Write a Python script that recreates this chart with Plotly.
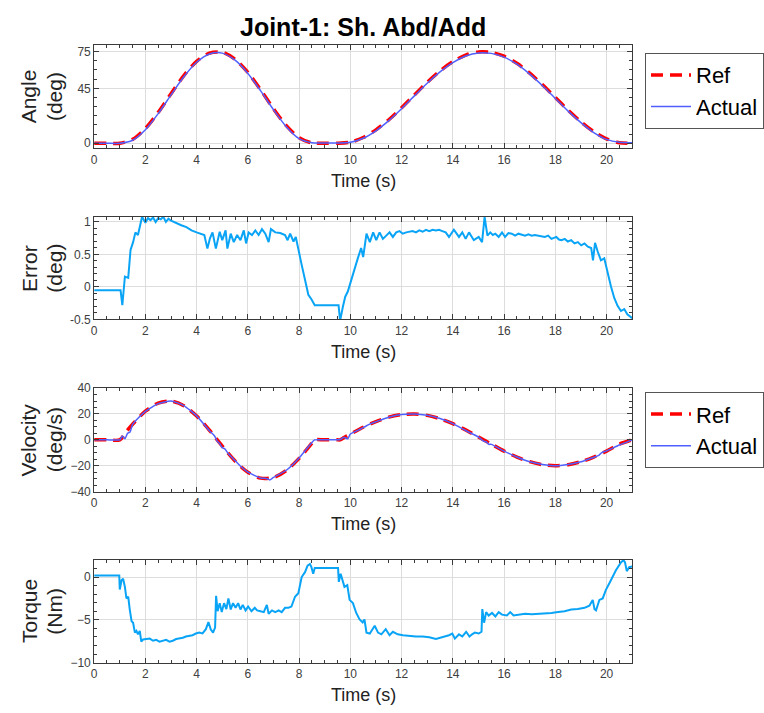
import plotly.graph_objects as go

# ---------------- data ----------------
ang_t = [0.5 * i for i in range(43)]
ang_ref = [0, 0, 0, 3.2, 12.1, 25.3, 40.6, 55.4, 67.1, 73.8,
           74.5, 68.8, 58.0, 43.7, 28.3, 14.4, 4.5, 0.3, 0, 0,
           0.9, 4.7, 11.0, 19.3, 29.1, 39.6, 49.9, 59.2, 66.8, 72.2,
           74.8, 74.4, 71.3, 65.5, 57.4, 47.9, 37.5, 27.1, 17.6, 9.5,
           3.7, 0.5, 0]
ang_act = [0.05, 0.05, 0.05, 2.5, 11.1, 24.3, 39.6, 54.4, 66.3, 73.1,
           73.8, 68.0, 57.2, 42.9, 27.5, 13.6, 3.8, 0.5, 0.3, 0.3,
           0.8, 4.1, 10.2, 18.5, 28.3, 38.8, 49.1, 58.4, 66.0, 71.4,
           74.0, 73.6, 70.5, 64.7, 56.6, 47.1, 36.7, 26.3, 16.9, 8.8,
           3.2, 0.8, 0.5]

err_t = [0, 1.03, 1.10, 1.20, 1.33, 1.42, 1.52, 1.61, 1.71, 1.80,
         1.87, 2.0, 2.1, 2.2, 2.3, 2.4, 2.5, 2.6, 2.7, 2.8,
         2.9, 3.0, 3.1, 3.2, 3.4, 3.6, 3.8, 4.0, 4.2, 4.3,
         4.42, 4.52, 4.62, 4.75, 4.9, 5.0, 5.13, 5.2, 5.33, 5.45,
         5.58, 5.71, 5.84, 5.93, 6.03, 6.16, 6.29, 6.42, 6.55, 6.68,
         6.81, 6.9, 7.07, 7.26, 7.45, 7.55, 7.65, 7.78, 7.87, 7.94,
         8.1, 8.23, 8.36, 8.48, 8.61, 9.54, 9.6, 9.71, 9.8, 9.9,
         10.03, 10.16, 10.29, 10.42, 10.5, 10.63, 10.76, 10.89, 11.01, 11.14,
         11.27, 11.4, 11.53, 11.66, 11.79, 11.92, 12.05, 12.18, 12.3, 12.43,
         12.56, 12.69, 12.82, 12.95, 13.08, 13.21, 13.34, 13.46, 13.59, 13.72,
         13.85, 14.04, 14.24, 14.37, 14.5, 14.63, 14.82, 15.01, 15.14, 15.24,
         15.35, 15.46, 15.56, 15.66, 15.79, 15.92, 16.04, 16.17, 16.3, 16.43,
         16.56, 16.69, 16.82, 16.95, 17.08, 17.2, 17.33, 17.46, 17.59, 17.72,
         17.85, 18.04, 18.14, 18.24, 18.37, 18.49, 18.62, 18.75, 18.88, 19.01,
         19.14, 19.27, 19.4, 19.47, 19.55, 19.65, 19.78, 19.91, 20.04, 20.17,
         20.3, 20.43, 20.56, 20.69, 20.81, 20.94, 21.0]
err_v = [-0.05, -0.05, -0.28, 0.16, 0.14, 0.57, 0.69, 0.84, 0.80, 0.97,
         1.08, 0.99, 1.06, 1.03, 1.07, 1.00, 1.06, 1.04, 1.08, 1.00,
         1.05, 1.02, 1.00, 0.98, 0.95, 0.92, 0.87, 0.84, 0.82, 0.80,
         0.59, 0.75, 0.84, 0.59, 0.85, 0.72, 0.87, 0.59, 0.82, 0.69,
         0.80, 0.72, 0.87, 0.67, 0.84, 0.80, 0.87, 0.80, 0.89, 0.82,
         0.69, 0.89, 0.84, 0.83, 0.80, 0.72, 0.82, 0.70, 0.77, 0.62,
         0.34, 0.11, -0.12, -0.19, -0.28, -0.28, -0.52, -0.30, -0.15, -0.07,
         0.11, 0.29, 0.44, 0.60, 0.46, 0.82, 0.69, 0.84, 0.72, 0.84,
         0.74, 0.79, 0.84, 0.77, 0.84, 0.86, 0.82, 0.84, 0.85, 0.86,
         0.84, 0.87, 0.85, 0.88, 0.86, 0.88, 0.87, 0.88, 0.86, 0.84,
         0.77, 0.88, 0.77, 0.84, 0.74, 0.84, 0.72, 0.77, 0.69, 1.08,
         0.79, 0.84, 0.80, 0.82, 0.77, 0.84, 0.77, 0.83, 0.82, 0.79,
         0.82, 0.80, 0.79, 0.81, 0.79, 0.80, 0.79, 0.78, 0.77, 0.79,
         0.74, 0.77, 0.73, 0.72, 0.74, 0.70, 0.72, 0.67, 0.69, 0.64,
         0.67, 0.62, 0.60, 0.41, 0.68, 0.55, 0.41, 0.44, 0.21, 0.01,
         -0.17, -0.29, -0.37, -0.34, -0.42, -0.47, -0.48]

vref_t = [0, 0.5, 1.0, 1.25, 1.5, 2.0, 2.5, 3.0, 3.5, 4.0,
          4.5, 5.0, 5.5, 6.0, 6.5, 7.0, 7.5, 8.0, 8.25, 8.5,
          8.6, 9.0, 9.5, 9.6, 9.75, 10.0, 10.5, 11.0, 11.5, 12.0,
          12.5, 13.0, 13.5, 14.0, 14.5, 15.0, 15.5, 16.0, 16.5, 17.0,
          17.5, 18.0, 18.5, 19.0, 19.5, 20.0, 20.5, 21.0]
vref_v = [0, 0, 0, 6.2, 12.0, 22.1, 28.4, 29.9, 26.4, 18.4,
          7.4, -4.9, -16.4, -25.1, -29.6, -29.1, -23.7, -14.3, -8.6, -2.5,
          0, 0, 0, 0, 1.7, 4.4, 9.7, 14.1, 17.5, 19.5,
          20.0, 18.9, 16.3, 12.5, 7.7, 2.2, -3.3, -8.7, -13.3, -16.9,
          -19.2, -20.0, -19.2, -16.9, -13.3, -8.7, -3.3, 0]

vact_t = [0, 0.5, 1.0, 1.1, 1.2, 1.3, 1.4, 1.5, 1.75, 2.0,
          2.5, 3.0, 3.5, 4.0, 4.5, 4.7, 4.8, 4.9, 5.0, 5.1,
          5.25, 5.5, 5.75, 6.0, 6.25, 6.5, 6.75, 6.85, 7.0, 7.5,
          8.0, 8.25, 8.5, 8.6, 9.0, 9.5, 9.6, 9.75, 9.9, 10.0,
          10.2, 10.4, 10.6, 10.8, 11.0, 11.5, 12.0, 12.5, 13.0, 13.5,
          14.0, 14.5, 15.0, 15.2, 15.3, 15.4, 15.5, 16.0, 16.5, 17.0,
          17.5, 18.0, 18.5, 19.0, 19.5, 19.7, 19.8, 20.0, 20.5, 21.0]
vact_v = [0, 0, 0, 3, 0.8, 5, 6, 12, 17.5, 22,
          28, 30, 26.5, 18.5, 7, 3, -1, -3, -6, -7,
          -11, -16, -21, -25, -27.5, -29.5, -30, -31, -29, -23.5,
          -14, -8, -2, 0, 0, 0, 0.2, 2, 0.8, 4.5,
          6.5, 8.4, 10.5, 12.5, 14, 17.5, 19.5, 20, 19, 16.5,
          12.5, 7.2, 2.2, -1, -1.5, -3.5, -3.5, -8.7, -13.3, -17,
          -19, -20, -19, -17, -13.5, -12, -10, -8.5, -4, 0]

tq_t = [0, 0.98, 1.0, 1.07, 1.13, 1.2, 1.26, 1.33, 1.39, 1.46,
        1.52, 1.59, 1.65, 1.71, 1.78, 1.84, 1.91, 2.04, 2.17, 2.3,
        2.42, 2.55, 2.68, 2.81, 2.94, 3.07, 3.2, 3.33, 3.46, 3.58,
        3.71, 3.84, 3.97, 4.1, 4.23, 4.36, 4.46, 4.55, 4.64, 4.72,
        4.76, 4.82, 4.9, 4.98, 5.07, 5.16, 5.24, 5.33, 5.42, 5.52,
        5.62, 5.71, 5.8, 5.91, 6.01, 6.14, 6.27, 6.36, 6.49, 6.62,
        6.74, 6.81, 6.94, 7.07, 7.2, 7.32, 7.45, 7.58, 7.7, 7.84,
        7.97, 8.1, 8.23, 8.33, 8.42, 8.48, 8.55, 8.61, 9.52, 9.55,
        9.62, 9.71, 9.77, 9.88, 9.97, 10.1, 10.23, 10.36, 10.48, 10.55,
        10.63, 10.76, 10.95, 11.08, 11.21, 11.38, 11.53, 11.66, 11.85, 12.05,
        12.3, 12.56, 12.82, 13.08, 13.34, 13.59, 13.85, 13.98, 14.08, 14.24,
        14.37, 14.52, 14.65, 14.75, 14.86, 15.01, 15.12, 15.15, 15.22, 15.3,
        15.4, 15.53, 15.66, 15.79, 15.92, 16.11, 16.24, 16.37, 16.56, 16.82,
        17.08, 17.33, 17.59, 17.85, 18.11, 18.36, 18.62, 18.88, 19.14, 19.33,
        19.46, 19.53, 19.59, 19.72, 19.85, 19.97, 20.17, 20.36, 20.56, 20.66,
        20.72, 20.79, 20.88, 21.0]
tq_v = [0.19, 0.19, -1.45, -0.38, -0.2, -1.15, -2.5, -2.3, -3.8, -5.15,
        -5.35, -6.5, -6.3, -6.7, -6.3, -7.55, -7.3, -7.25, -7.2, -7.45,
        -7.35, -7.55, -7.45, -7.35, -7.55, -7.45, -7.25, -7.2, -7.1, -6.95,
        -6.85, -6.8, -6.6, -6.5, -6.6, -6.1, -5.27, -6.1, -6.5, -5.9,
        -2.2, -4.0, -3.05, -4.1, -3.05, -3.75, -2.5, -3.8, -3.05, -3.6,
        -3.05, -3.8, -3.25, -3.9, -3.45, -4.0, -3.6, -3.9, -4.0, -4.1,
        -3.25, -4.3, -3.9, -4.1, -3.9, -4.1, -3.6, -3.6, -3.45, -2.3,
        -1.9, 0.0, 0.57, 1.34, 1.53, 1.15, 0.38, 1.07, 1.07, -0.57,
        0.38, -0.38, -1.15, -0.95, -2.67, -3.05, -4.2, -4.96, -5.3, -4.96,
        -6.5, -6.6, -5.7, -6.5, -6.7, -6.1, -6.8, -6.4, -6.7, -6.8,
        -6.9, -6.95, -6.95, -7.05, -7.25, -7.05, -6.8, -6.6, -7.2, -6.7,
        -6.95, -6.4, -6.95, -6.7, -6.5, -6.6, -6.4, -3.74, -5.34, -4.1,
        -4.5, -4.2, -4.6, -4.1, -4.4, -4.5, -4.1, -4.5, -4.4, -4.3,
        -4.35, -4.3, -4.3, -4.2, -4.1, -4.0, -3.8, -3.75, -3.6, -3.35,
        -2.67, -3.75, -3.9, -2.67, -2.5, -1.53, -0.38, 0.76, 1.7, 1.98,
        1.72, 0.69, 1.15, 1.22]

x_ticks = [0, 2, 4, 6, 8, 10, 12, 14, 16, 18, 20]
ang_ticks = [0, 45, 75]
err_ticks = [-0.5, 0, 0.5, 1]
err_ticktext = ["-0.5", "0", "0.5", "1"]
vel_ticks = [-40, -20, 0, 20, 40]
tq_ticks = [-10, -5, 0]

title_text = "Joint-1: Sh. Abd/Add"
ylabels = [("Angle", "(deg)"), ("Error", "(deg)"), ("Velocity", "(deg/s)"), ("Torque", "(Nm)")]
xlabel = "Time (s)"

assert len(err_t) == len(err_v)
assert len(vref_t) == len(vref_v)
assert len(vact_t) == len(vact_v)
assert len(tq_t) == len(tq_v)
assert len(ang_t) == len(ang_ref) == len(ang_act)

# ---------------- figure ----------------
W, H = 764, 713
FONT = "Arial, Liberation Sans, sans-serif"
RED = "#FF0000"
BLUE = "#5060FF"
CYAN = "#0AA4F6"

fig = go.Figure()
fig.add_trace(go.Scatter(x=ang_t, y=ang_ref, name="Ref", mode="lines", line=dict(color=RED, width=3.5, dash="12px,7px", shape="spline", smoothing=0.8), xaxis="x", yaxis="y", legend="legend"))
fig.add_trace(go.Scatter(x=ang_t, y=ang_act, name="Actual", mode="lines", line=dict(color=BLUE, width=1.5, shape="spline", smoothing=0.8), xaxis="x", yaxis="y", legend="legend"))
fig.add_trace(go.Scatter(x=err_t, y=err_v, mode="lines", line=dict(color=CYAN, width=2), xaxis="x2", yaxis="y2", showlegend=False))
fig.add_trace(go.Scatter(x=vref_t, y=vref_v, name="Ref", mode="lines", line=dict(color=RED, width=3.5, dash="12px,7px", shape="spline", smoothing=0.8), xaxis="x3", yaxis="y3", legend="legend2"))
fig.add_trace(go.Scatter(x=vact_t, y=vact_v, name="Actual", mode="lines", line=dict(color=BLUE, width=1.5, shape="spline", smoothing=0.5), xaxis="x3", yaxis="y3", legend="legend2"))
fig.add_trace(go.Scatter(x=tq_t, y=tq_v, mode="lines", line=dict(color=CYAN, width=2), xaxis="x4", yaxis="y4", showlegend=False))

# plot areas in pixels: (top, bottom)
px_left, px_right = 92, 635
rows = [(38.7, 144.0), (214.0, 318.7), (388.7, 494.3), (564.0, 668.7)]
xdom = [px_left / W, px_right / W]

def ydom(top, bot):
    return [1 - bot / H, 1 - top / H]

axis_common = dict(
    showline=True, linecolor="#3a3a3a", linewidth=1, mirror="ticks",
    ticks="inside", ticklen=5, tickcolor="#3a3a3a", tickwidth=1,
    showgrid=True, gridcolor="#dddddd", gridwidth=1, zeroline=False,
    tickfont=dict(family=FONT, size=12, color="#404040"),
)

yspecs = [
    dict(range=[-4, 80.5], tickvals=ang_ticks, minor=dict(ticks="inside", ticklen=3, dtick=7.5, tickcolor="#3a3a3a")),
    dict(range=[-0.5, 1.08], tickvals=err_ticks, ticktext=err_ticktext, minor=dict(ticks="inside", ticklen=3, dtick=0.1, tickcolor="#3a3a3a")),
    dict(range=[-40, 40], tickvals=vel_ticks, minor=dict(ticks="inside", ticklen=3, dtick=5, tickcolor="#3a3a3a")),
    dict(range=[-10, 2], tickvals=tq_ticks, minor=dict(ticks="inside", ticklen=3, dtick=1, tickcolor="#3a3a3a")),
]

layout = dict(
    width=W, height=H, margin=dict(l=0, r=0, t=0, b=0),
    paper_bgcolor="white", plot_bgcolor="white", showlegend=True,
    font=dict(family=FONT, color="black"),
)
annotations = []
for i, (top, bot) in enumerate(rows):
    sfx = "" if i == 0 else str(i + 1)
    layout["xaxis" + sfx] = dict(
        axis_common, domain=xdom, anchor="y" + sfx, range=[0, 21],
        tickvals=x_ticks,
        minor=dict(ticks="inside", ticklen=3, dtick=0.5, tickcolor="#3a3a3a"),
    )
    layout["yaxis" + sfx] = dict(axis_common, domain=ydom(top, bot), anchor="x" + sfx, **yspecs[i])
    annotations.append(dict(text=xlabel, x=(px_left + px_right) / 2 / W, y=1 - (bot + 33) / H,
                            xref="paper", yref="paper", showarrow=False, xanchor="center", yanchor="middle",
                            font=dict(family=FONT, size=18, color="#222")))
    yc = 1 - (top + bot) / 2 / H
    l1, l2 = ylabels[i]
    annotations.append(dict(text=l1, x=26 / W, y=yc, xref="paper", yref="paper", showarrow=False,
                            textangle=-90, xanchor="center", yanchor="middle",
                            font=dict(family=FONT, size=21, color="#222")))
    annotations.append(dict(text=l2, x=52 / W, y=yc, xref="paper", yref="paper", showarrow=False,
                            textangle=-90, xanchor="center", yanchor="middle",
                            font=dict(family=FONT, size=21, color="#222")))

annotations.append(dict(text="<b>" + title_text + "</b>", x=(px_left + px_right) / 2 / W, y=1 - 20 / H,
                        xref="paper", yref="paper", showarrow=False, xanchor="center", yanchor="middle",
                        font=dict(family=FONT, size=25, color="black")))
layout["annotations"] = annotations

leg_common = dict(xanchor="left", yanchor="top", bgcolor="white", bordercolor="#555555", borderwidth=1,
                  font=dict(family=FONT, size=22, color="black"), itemwidth=40, tracegroupgap=0)
layout["legend"] = dict(leg_common, x=648 / W, y=1 - 47 / H)
layout["legend2"] = dict(leg_common, x=648 / W, y=1 - 393 / H)

fig.update_layout(**layout)
fig.write_html("out.html")
